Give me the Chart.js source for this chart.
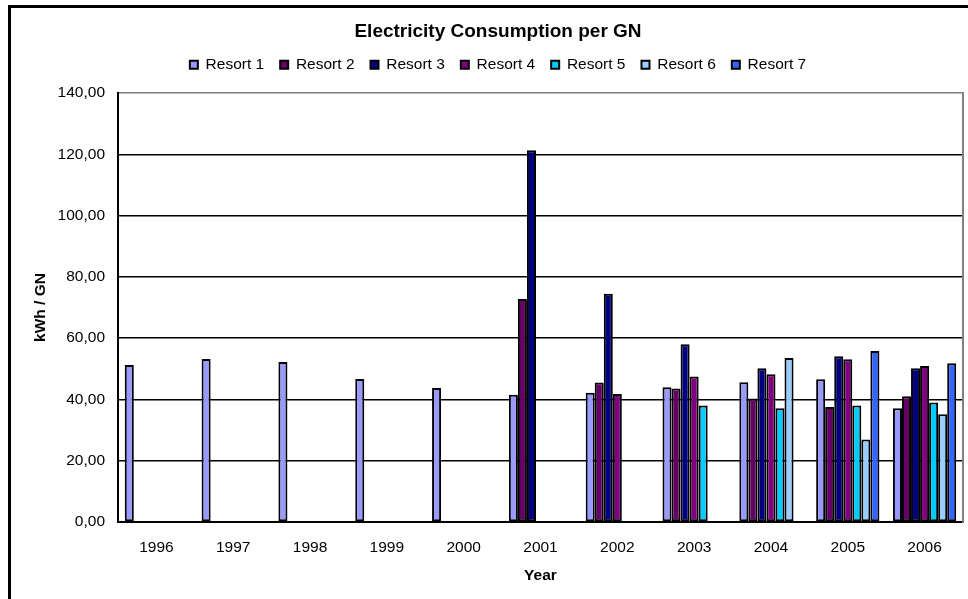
<!DOCTYPE html>
<html>
<head>
<meta charset="utf-8">
<script src="https://cdn.jsdelivr.net/npm/chart.js@4/dist/chart.umd.min.js"></script>
<style>
  html, body { margin: 0; padding: 0; background: #fff; overflow: hidden; }
  canvas { display: block; }
</style>
</head>
<body>
<canvas id="c" width="968" height="599"></canvas>
<script>
// Electricity consumption per guest night (kWh / GN), per resort and year
const years = ['1996', '1997', '1998', '1999', '2000', '2001', '2002', '2003', '2004', '2005', '2006'];
const resort1 = [51.2, 53.2, 52.2, 46.7, 43.7, 41.5, 42.2, 44.0, 45.6, 46.6, 37.1];
const resort2 = [null, null, null, null, null, 72.8, 45.5, 43.6, 40.3, 37.5, 41.0];
const resort3 = [null, null, null, null, null, 121.3, 74.5, 58.0, 50.2, 54.1, 50.2];
const resort4 = [null, null, null, null, null, null, 41.8, 47.5, 48.2, 53.1, 50.9];
const resort5 = [null, null, null, null, null, null, null, 38.0, 37.1, 38.0, 39.0];
const resort6 = [null, null, null, null, null, null, null, null, 53.5, 26.9, 35.2];
const resort7 = [null, null, null, null, null, null, null, null, null, 55.8, 51.8];
const seriesNames = ['Resort 1', 'Resort 2', 'Resort 3', 'Resort 4', 'Resort 5', 'Resort 6', 'Resort 7'];
const seriesColors = ['#9999FF', '#660066', '#000080', '#800080', '#00CCFF', '#99CCFF', '#3366FF'];
const yTicks = { min: 0, max: 140, step: 20 };

const FONT = "'Liberation Sans', Arial, sans-serif";
const allSeries = [resort1, resort2, resort3, resort4, resort5, resort6, resort7];

const datasets = allSeries.map((values, i) => ({
  label: seriesNames[i],
  data: values,
  backgroundColor: seriesColors[i],
  borderColor: '#000',
  borderWidth: 2,
  borderSkipped: false,
  categoryPercentage: 7 / 8.5,
  barPercentage: 1
}));

// Leave some room between the legend row and the plot area
const legendGap = {
  id: 'legendGap',
  beforeLayout(chart) {
    const lg = chart.legend;
    if (lg && !lg._gapPatched) {
      const fit = lg.fit;
      lg.fit = function () { fit.call(this); this.height += 10.5; };
      lg._gapPatched = true;
    }
  }
};

// Outer chart frame (continues past the right and bottom edges of the canvas)
const outerFrame = {
  id: 'outerFrame',
  afterDraw(chart) {
    const ctx = chart.ctx;
    ctx.save();
    ctx.strokeStyle = '#000';
    ctx.lineWidth = 3;
    ctx.beginPath();
    ctx.moveTo(9.5, chart.height + 10);
    ctx.lineTo(9.5, 6.5);
    ctx.lineTo(chart.width + 10, 6.5);
    ctx.stroke();
    ctx.restore();
  }
};

new Chart(document.getElementById('c'), {
  type: 'bar',
  data: { labels: years, datasets },
  plugins: [legendGap, outerFrame],
  options: {
    responsive: false,
    animation: false,
    devicePixelRatio: 1,
    layout: { padding: { top: 5, left: 33, right: 5, bottom: 16 } },
    plugins: {
      tooltip: { enabled: false },
      title: {
        display: true,
        text: 'Electricity Consumption per GN',
        color: '#000',
        font: { family: FONT, size: 19, weight: 'bold', lineHeight: 1 },
        padding: { top: 17, bottom: 0 }
      },
      legend: {
        display: true,
        position: 'top',
        labels: {
          color: '#000',
          font: { family: FONT, size: 15.5 },
          boxWidth: 8,
          boxHeight: 8,
          padding: 16
        }
      }
    },
    scales: {
      x: {
        grid: { display: false, drawTicks: false },
        border: { color: '#000', width: 2 },
        ticks: { color: '#000', font: { family: FONT, size: 15.5 }, padding: 16, maxRotation: 0 },
        title: {
          display: true, text: 'Year', color: '#000',
          font: { family: FONT, size: 15.5, weight: 'bold', lineHeight: 1 },
          padding: 0
        },
        afterFit: s => { s.height = 61; }
      },
      y: {
        min: yTicks.min,
        max: yTicks.max,
        ticks: {
          stepSize: yTicks.step,
          color: '#000',
          font: { family: FONT, size: 15.5 },
          padding: 13,
          callback: v => v.toFixed(2).replace('.', ',')
        },
        grid: {
          drawTicks: false,
          lineWidth: 1.5,
          color: ctx => (ctx.tick && ctx.tick.value === yTicks.max ? '#808080' : '#000')
        },
        border: { color: '#000', width: 2 },
        title: {
          display: true, text: 'kWh / GN', color: '#000',
          font: { family: FONT, size: 15.5, weight: 'bold', lineHeight: 1 },
          padding: 0
        },
        afterFit: s => { s.width = 85; }
      },
      yRight: {
        position: 'right',
        min: yTicks.min,
        max: yTicks.max,
        ticks: { display: false },
        grid: { display: false, drawTicks: false },
        border: { color: '#808080', width: 2 },
        afterFit: s => { s.width = 0; }
      }
    }
  }
});
</script>
</body>
</html>
